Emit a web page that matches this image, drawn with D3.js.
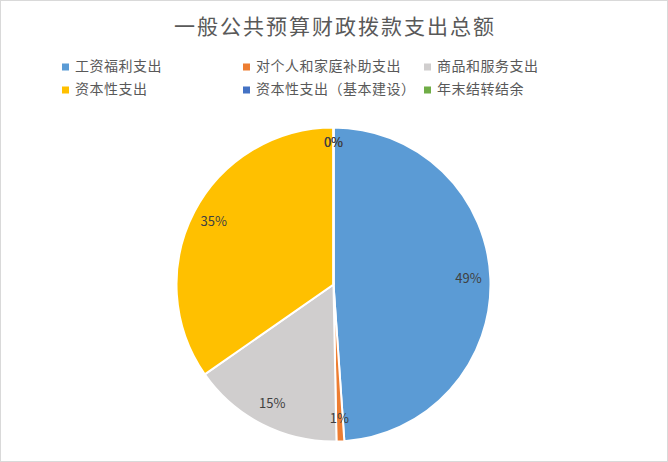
<!DOCTYPE html>
<html>
<head>
<meta charset="utf-8">
<script src="https://cdn.jsdelivr.net/npm/d3@7"></script>
<style>
  body { margin: 0; background: #fff; }
  svg { display: block; font-family: "Noto Sans CJK SC", "Microsoft YaHei", sans-serif; }
</style>
</head>
<body>
<svg id="chart" width="668" height="462"></svg>
<script>
// data
const categories = ["工资福利支出", "对个人和家庭补助支出", "商品和服务支出", "资本性支出", "资本性支出（基本建设）", "年末结转结余"];
const values = [48.9, 0.8, 15.6, 34.7, 0, 0];
const labels = ["49%", "1%", "15%", "35%", "0%", "0%"];
const colors = ["#5B9BD5", "#ED7D31", "#D0CECE", "#FFC000", "#4472C4", "#70AD47"];

const svg = d3.select("#chart");
const W = 668, H = 462;

// outer border
svg.append("rect")
    .attr("x", 0.5).attr("y", 0.5)
    .attr("width", W - 1).attr("height", H - 1)
    .style("fill", "#fff")
    .style("stroke", "#d9d9d9");

// title
svg.append("text")
    .attr("x", W / 2 + 1)
    .attr("y", 28)
    .attr("text-anchor", "middle")
    .attr("dominant-baseline", "middle")
    .style("font-size", "21px")
    .style("letter-spacing", "2px")
    .style("fill", "#595959")
    .text("一般公共预算财政拨款支出总额");

// legend, 3 columns x 2 rows
const colX = [62, 243, 424];
const rowY = [67, 90];
const legend = svg.append("g")
    .selectAll("g")
    .data(categories)
    .join("g")
    .attr("transform", (d, i) => `translate(${colX[i % 3]},${rowY[Math.floor(i / 3)]})`);

legend.append("rect")
    .attr("x", 0).attr("y", -3.5)
    .attr("width", 7).attr("height", 7)
    .style("fill", (d, i) => colors[i]);

legend.append("text")
    .attr("x", 13)
    .attr("y", 0)
    .attr("dominant-baseline", "middle")
    .style("font-size", "14px")
    .style("letter-spacing", "0.5px")
    .style("fill", "#595959")
    .text(d => d);

// pie
const cx = 333.5, cy = 284.5, r = 157;
const pie = d3.pie().sort(null).value(d => d);
const arc = d3.arc().innerRadius(0).outerRadius(r);
const labelArc = d3.arc().innerRadius(r * 0.86).outerRadius(r * 0.86);

const g = svg.append("g").attr("transform", `translate(${cx},${cy})`);
const arcs = pie(values);

g.selectAll("path")
    .data(arcs)
    .join("path")
    .attr("d", arc)
    .style("fill", (d, i) => colors[i])
    .style("stroke", "#fff")
    .style("stroke-width", 2);

g.selectAll("text")
    .data(arcs)
    .join("text")
    .attr("transform", (d, i) => {
        const p = labelArc.centroid(d);
        if (values[i] === 0) p[1] = -r * 0.9;
        return `translate(${p[0]},${p[1]})`;
    })
    .attr("text-anchor", "middle")
    .attr("dominant-baseline", "middle")
    .style("font-size", "13px")
    .style("fill", "#404040")
    .text((d, i) => labels[i]);
</script>
</body>
</html>
